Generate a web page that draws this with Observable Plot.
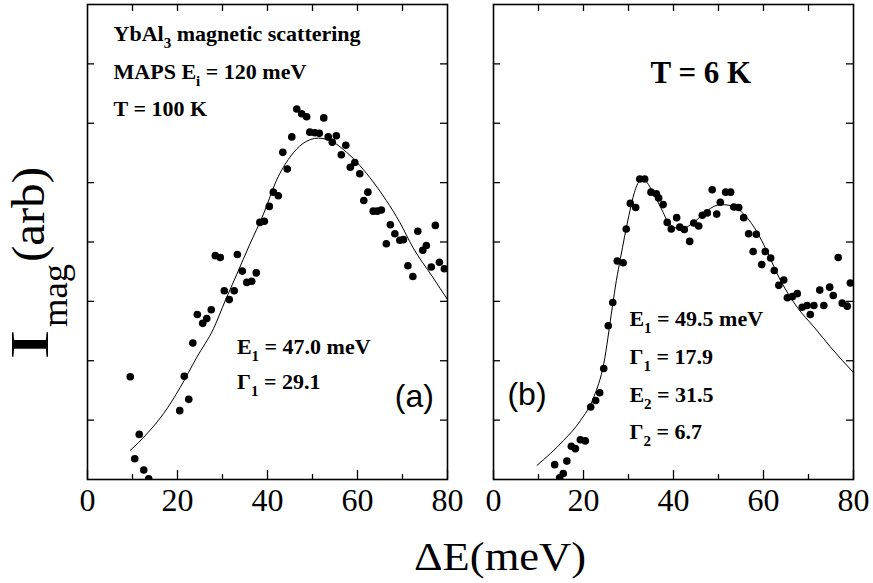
<!DOCTYPE html>
<html>
<head>
<meta charset="utf-8">
<script src="https://cdn.jsdelivr.net/npm/d3@7"></script>
<script src="https://cdn.jsdelivr.net/npm/@observablehq/plot@0.6"></script>
<style>
  body { margin: 0; background: #fff; }
  #wrap { position: relative; width: 873px; height: 583px; overflow: hidden; background: #fff; }
  #wrap svg { position: absolute; top: 0; }
  #wrap svg text.num { font-family: 'Liberation Serif', 'Times New Roman', serif !important; }
</style>
</head>
<body>
<div id="wrap"></div>
<script>
// ---------- data ----------
// Panel (a): T = 100 K
const aE = [9.5, 10.5, 11.5, 12.5, 13.6, 20.5, 21.5, 22.5, 23.4, 24.4, 25.6, 26.5, 27.5, 28.4, 29.5, 30.4, 31.5, 32.6, 33.3, 34.4, 35.4, 36.5, 37.5, 38.3, 39.3, 40.4, 41.3, 42.4, 43.4, 44.4, 45.4, 46.5, 47.6, 48.7, 49.4, 50.5, 51.5, 52.5, 53.5, 54.4, 55.3, 56.4, 57.4, 58.4, 59.4, 60.5, 61.4, 62.3, 63.5, 64.4, 65.3, 66.4, 67.3, 68.3, 69.4, 70.2, 71.2, 72.3, 73.4, 74.5, 75.3, 76.4, 77.3, 78.2, 79.3];
const aI = [1.73, 0.35, 0.76, 0.16, 0.01, 1.16, 1.74, 1.35, 2.30, 2.78, 2.63, 2.71, 2.86, 3.77, 3.74, 3.18, 3.03, 3.18, 3.79, 3.51, 3.32, 3.34, 3.48, 4.33, 4.35, 4.60, 4.84, 4.78, 5.51, 5.23, 5.77, 6.24, 6.16, 6.11, 5.85, 5.84, 5.83, 6.09, 5.77, 5.68, 5.79, 5.47, 5.63, 5.26, 5.34, 5.15, 4.70, 4.84, 4.52, 4.52, 4.54, 3.97, 4.29, 4.14, 4.03, 4.04, 3.60, 3.42, 4.18, 3.86, 3.94, 3.58, 4.28, 3.66, 3.55];
const aFitE = [9.5, 13.2, 16.9, 20.6, 24.3, 28.0, 30.6, 33.2, 36.0, 39.1, 42.0, 45.0, 47.9, 51.3, 54.6, 57.6, 60.5, 63.5, 66.4, 69.4, 72.3, 76.7, 80];
const aFitI = [0.49, 0.77, 1.11, 1.55, 2.06, 2.54, 3.01, 3.46, 3.95, 4.47, 5.04, 5.43, 5.66, 5.75, 5.68, 5.51, 5.29, 5.01, 4.70, 4.33, 3.91, 3.41, 3.03];

// Panel (b): T = 6 K
const bE = [13.6, 14.7, 15.5, 16.3, 17.3, 18.2, 19.3, 20.4, 21.6, 22.7, 23.6, 24.5, 25.5, 26.5, 27.5, 28.8, 29.5, 30.4, 31.6, 32.5, 33.6, 35.0, 36.2, 36.7, 37.7, 38.6, 39.5, 40.7, 41.4, 42.4, 43.6, 44.5, 45.6, 46.4, 47.5, 48.6, 49.6, 50.4, 51.6, 52.7, 53.4, 54.5, 55.6, 56.7, 57.7, 58.4, 59.6, 60.4, 61.6, 62.4, 63.4, 64.5, 65.3, 66.4, 67.5, 68.6, 69.7, 70.4, 71.2, 72.5, 73.4, 74.7, 75.5, 76.6, 77.5, 78.6, 79.3];
const bI = [0.25, 0.03, 0.10, 0.31, 0.56, 0.52, 0.67, 0.65, 1.22, 1.33, 1.46, 1.87, 2.59, 2.98, 3.68, 3.65, 4.22, 4.65, 4.58, 5.06, 5.06, 4.84, 4.81, 4.74, 4.63, 4.33, 4.22, 4.41, 4.25, 4.21, 4.01, 4.32, 4.27, 4.45, 4.49, 4.88, 4.47, 4.67, 4.84, 4.84, 4.59, 4.58, 4.41, 4.14, 3.84, 4.13, 3.62, 3.84, 3.73, 3.52, 3.27, 3.36, 3.06, 3.08, 3.13, 2.90, 2.93, 2.78, 2.93, 3.19, 2.93, 3.24, 3.10, 3.74, 2.97, 2.92, 3.31];
const bFitE = [9.7, 15.6, 19.3, 22.3, 24.5, 26.4, 27.3, 28.2, 29.1, 30.1, 31.0, 31.6, 32.5, 33.3, 35.6, 37.5, 39.0, 41.6, 44.5, 47.5, 50.4, 53.0, 55.6, 57.9, 60.1, 63.8, 67.5, 71.2, 74.9, 80];
const bFitI = [0.24, 0.66, 0.99, 1.39, 1.95, 2.90, 3.35, 3.72, 4.08, 4.45, 4.75, 4.90, 5.03, 5.05, 4.81, 4.53, 4.31, 4.22, 4.33, 4.53, 4.63, 4.61, 4.47, 4.25, 3.95, 3.35, 2.90, 2.57, 2.23, 1.80];

// ticks
const xMajorTicks = [0, 20, 40, 60, 80];
const xMinorTicks = [10, 30, 50, 70];
const xTopTicks = [10, 20, 30, 40, 50, 60, 70];
const yTicks = [1, 2, 3, 4, 5, 6, 7];

// annotations (text, and where it sits in data units)
const notesA = [
  {E: 5.8, I: 7.38, text: "YbAl_3 magnetic scattering"},
  {E: 5.8, I: 6.75, text: "MAPS E_i = 120 meV"},
  {E: 5.8, I: 6.13, text: "T = 100 K"},
  {E: 33.2, I: 2.12, text: "E_1 = 47.0 meV"},
  {E: 33.2, I: 1.52, text: "Γ_1 = 29.1"}
];
const notesB = [
  {E: 30.2, I: 2.58, text: "E_1 = 49.5 meV"},
  {E: 30.2, I: 1.95, text: "Γ_1 = 17.9"},
  {E: 30.2, I: 1.31, text: "E_2 = 31.5"},
  {E: 30.2, I: 0.69, text: "Γ_2 = 6.7"}
];
const titleB = [{E: 34.9, I: 6.67, text: "T = 6 K"}];
const tagA = [{E: 68.3, I: 1.22, text: "(a)"}];
const tagB = [{E: 3.1, I: 1.25, text: "(b)"}];

// ---------- build ----------
const zip = (E, I) => E.map((e, i) => ({E: e, I: I[i]}));
const H = 583, FRAME_H = 475, FRAME_W = 360;
const SERIF = "Liberation Serif";
const SANS = "Liberation Sans";

function panel({width, ml, mr, pts, fit, notes, extra}) {
  const tk = {stroke: "black", strokeWidth: 1.3};
  return Plot.plot({
    width, height: H,
    marginLeft: ml, marginRight: mr, marginTop: 4, marginBottom: 104,
    x: {domain: [0, 80], axis: null},
    y: {domain: [0, 8], axis: null},
    style: {background: "transparent", overflow: "visible"},
    marks: [
      Plot.tickX(xMajorTicks, {x: d => d, insetTop: FRAME_H - 9, ...tk}),
      Plot.tickX(xMinorTicks, {x: d => d, insetTop: FRAME_H - 5, ...tk}),
      Plot.tickX(xTopTicks, {x: d => d, insetBottom: FRAME_H - 7, ...tk}),
      Plot.tickY(yTicks, {y: d => d, insetRight: FRAME_W - 7, ...tk}),
      Plot.tickY(yTicks, {y: d => d, insetLeft: FRAME_W - 7, ...tk}),
      // tick labels
      Plot.text(xMajorTicks, {x: d => d, frameAnchor: "bottom", text: d => String(d),
        lineAnchor: "top", dy: 9, fontFamily: SERIF, fontSize: 32, fill: "black"}),
      Plot.line(fit, {x: "E", y: "I", curve: "monotone-x", stroke: "black", strokeWidth: 1}),
      Plot.dot(pts, {x: "E", y: "I", r: 3.8, fill: "black", clip: true}),
      Plot.text(notes, {x: "E", y: "I", text: "text", textAnchor: "start", lineAnchor: "bottom",
        fontFamily: SERIF, fontWeight: "bold", fontSize: 22, fill: "black"}),
      ...extra,
      Plot.frame({stroke: "black", strokeWidth: 1.6})
    ]
  });
}

const tagMark = (data) => Plot.text(data, {x: "E", y: "I", text: "text", textAnchor: "start",
  lineAnchor: "bottom", fontFamily: SANS, fontSize: 32, fill: "black"});

const svgA = panel({width: 470, ml: 87, mr: 23, pts: zip(aE, aI), fit: zip(aFitE, aFitI),
  notes: notesA, extra: [tagMark(tagA)]});
const svgB = panel({width: 403, ml: 23, mr: 20, pts: zip(bE, bI), fit: zip(bFitE, bFitI),
  notes: notesB, extra: [
    tagMark(tagB),
    Plot.text(titleB, {x: "E", y: "I", text: "text", textAnchor: "start", lineAnchor: "bottom",
      fontFamily: SERIF, fontWeight: "bold", fontSize: 31, fill: "black"})
  ]});

// subscripts: "X_s" -> X with subscript s
function subscripts(svg) {
  d3.select(svg).selectAll("text").each(function () {
    const t = this.textContent;
    if (!t.includes("_")) return;
    const el = d3.select(this).text(null).style("white-space", "pre");
    const parts = t.split(/_(\S)/);
    let shifted = false;
    parts.forEach((p, i) => {
      if (!p) return;
      const ts = el.append("tspan").text(p);
      if (i % 2 === 1) { ts.attr("dy", 7).attr("font-size", 15); shifted = true; }
      else if (shifted) { ts.attr("dy", -7); shifted = false; }
    });
  });
}
// numeric tick labels: force the serif face
function serifNumbers(svg) {
  d3.select(svg).selectAll("text")
    .filter(function () { return /^\d+$/.test(this.textContent.trim()); })
    .classed("num", true)
    .attr("font-family", SERIF)
    .style("font-variant-numeric", "normal");
}
[svgA, svgB].forEach(s => { subscripts(s); serifNumbers(s); });

const wrap = document.getElementById("wrap");
svgA.style.left = "0px";
svgB.style.left = "470px";
wrap.appendChild(svgA);
wrap.appendChild(svgB);

// axis titles
const ov = d3.select(wrap).append("svg").attr("width", 873).attr("height", 583)
  .style("left", "0px").style("pointer-events", "none");
ov.append("text").attr("transform", "translate(48,360) rotate(-90)")
  .attr("font-family", SERIF).attr("font-size", 54)
  .attr("textLength", 31).attr("lengthAdjust", "spacingAndGlyphs").text("I");
ov.append("text").attr("transform", "translate(67,327) rotate(-90)")
  .attr("font-family", SERIF).attr("font-size", 36)
  .attr("textLength", 63).attr("lengthAdjust", "spacingAndGlyphs").text("mag");
ov.append("text").attr("transform", "translate(44,262) rotate(-90)")
  .attr("font-family", SERIF).attr("font-size", 46)
  .attr("textLength", 95).attr("lengthAdjust", "spacingAndGlyphs").text("(arb)");
ov.append("text").attr("x", 500).attr("y", 570).attr("text-anchor", "middle")
  .attr("font-family", SERIF).attr("font-size", 40)
  .attr("textLength", 172).attr("lengthAdjust", "spacingAndGlyphs").text("ΔE(meV)");
</script>
</body>
</html>
